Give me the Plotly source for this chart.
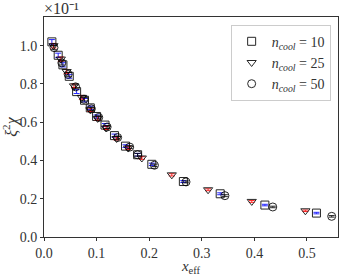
import plotly.graph_objects as go

# n_cool = 10 (squares)
x10 = [0.015, 0.027, 0.036, 0.048, 0.062, 0.077, 0.088, 0.100, 0.116, 0.134, 0.155, 0.178, 0.205, 0.265, 0.335, 0.420, 0.518]
y10 = [1.020, 0.950, 0.900, 0.840, 0.760, 0.715, 0.675, 0.630, 0.585, 0.530, 0.475, 0.430, 0.380, 0.290, 0.226, 0.167, 0.125]
e10 = [0.012, 0.011, 0.011, 0.010, 0.010, 0.009, 0.009, 0.008, 0.008, 0.008, 0.007, 0.007, 0.006, 0.005, 0.005, 0.004, 0.004]

# n_cool = 25 (down triangles)
x25 = [0.018, 0.032, 0.043, 0.057, 0.072, 0.088, 0.102, 0.118, 0.138, 0.160, 0.186, 0.243, 0.312, 0.395, 0.497]
y25 = [1.000, 0.930, 0.865, 0.790, 0.730, 0.665, 0.620, 0.570, 0.515, 0.465, 0.413, 0.325, 0.247, 0.186, 0.137]
e25 = [0.012, 0.011, 0.011, 0.010, 0.010, 0.009, 0.009, 0.008, 0.008, 0.007, 0.007, 0.006, 0.005, 0.005, 0.004]

# n_cool = 50 (circles)
x50 = [0.019, 0.034, 0.046, 0.060, 0.076, 0.090, 0.104, 0.120, 0.140, 0.163, 0.178, 0.210, 0.270, 0.344, 0.435, 0.547]
y50 = [0.990, 0.910, 0.850, 0.785, 0.720, 0.670, 0.625, 0.575, 0.520, 0.470, 0.430, 0.375, 0.288, 0.216, 0.157, 0.108]
e50 = [0.011, 0.011, 0.010, 0.010, 0.009, 0.009, 0.008, 0.008, 0.008, 0.007, 0.007, 0.006, 0.005, 0.005, 0.004, 0.004]

x_ticks = [0.0, 0.1, 0.2, 0.3, 0.4, 0.5]
y_ticks = [0.0, 0.2, 0.4, 0.6, 0.8, 1.0]

FONT = "Liberation Serif"

series = [
    (x10, y10, e10, "square-open", "blue", "<i>n</i><sub><i>cool</i></sub> = 10", 8),
    (x25, y25, e25, "triangle-down-open", "red", "<i>n</i><sub><i>cool</i></sub> = 25", 8),
    (x50, y50, e50, "circle-open", "black", "<i>n</i><sub><i>cool</i></sub> = 50", 8),
]

fig = go.Figure()
for xs, ys, es, sym, ecol, name, size in series:
    fig.add_trace(go.Scatter(
        x=xs, y=ys, mode="markers", name=name,
        marker=dict(symbol=sym, size=size, color="black", line=dict(width=1, color="black")),
        opacity=0.85,
        error_y=dict(type="data", array=es, visible=True, color=ecol, thickness=1, width=3),
    ))

fig.update_layout(
    width=343, height=276,
    margin=dict(l=44, r=5, t=17, b=39),
    paper_bgcolor="white", plot_bgcolor="white",
    font=dict(family=FONT, size=14, color="#333333"),
    showlegend=True,
    legend=dict(x=0.975, y=0.965, xanchor="right", yanchor="top",
                bordercolor="#cccccc", borderwidth=1, bgcolor="white",
                font=dict(family=FONT, size=14, color="#333333"),
                itemwidth=30, tracegroupgap=0),
    xaxis=dict(range=[0, 0.559], tickvals=x_ticks, ticktext=[f"{v:.1f}" for v in x_ticks],
               ticks="outside", ticklen=3, tickcolor="#333333",
               tickfont=dict(family=FONT, size=14),
               showline=True, linecolor="#333333", linewidth=1, mirror=True,
               showgrid=False, zeroline=False,
               title=dict(text="<i>x</i><sub>eff</sub>", font=dict(family=FONT, size=15), standoff=0)),
    yaxis=dict(range=[0, 1.15], tickvals=y_ticks, ticktext=[f"{v:.1f}" for v in y_ticks],
               ticks="outside", ticklen=3, tickcolor="#333333",
               tickfont=dict(family=FONT, size=14),
               showline=True, linecolor="#333333", linewidth=1, mirror=True,
               showgrid=False, zeroline=False,
               title=dict(text="<i>ξ</i><sup>2</sup><i>χ</i>", font=dict(family=FONT, size=16), standoff=2)),
)

fig.add_annotation(text="×10⁻¹", xref="paper", yref="paper", x=0, y=1.0,
                   xanchor="left", yanchor="bottom", showarrow=False,
                   font=dict(family=FONT, size=16, color="#333333"), xshift=-2, yshift=-2)

fig.write_html("out.html", config={"displayModeBar": False},
               post_script="document.body.style.margin='0';document.body.style.padding='0';")
